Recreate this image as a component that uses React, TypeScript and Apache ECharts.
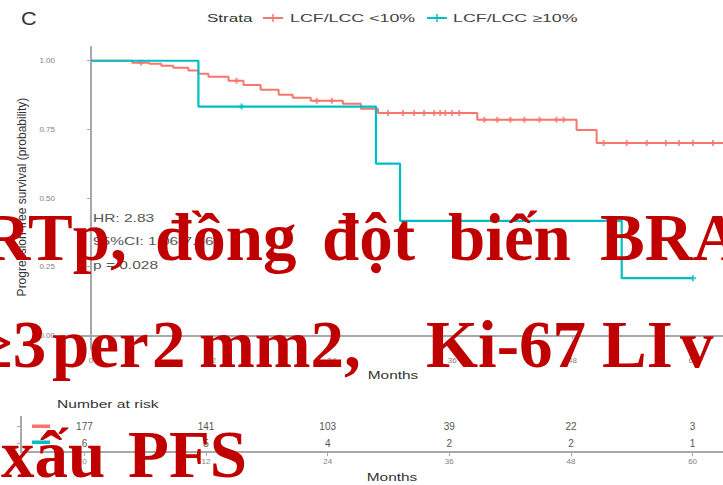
import React, { useEffect, useRef } from 'react';
import * as echarts from 'echarts';

// Kaplan-Meier step data (months, survival probability)
const redTime = [0, 4.1, 5.8, 7.0, 8.2, 9.7, 10.7, 11.7, 13.7, 15.2, 16.9, 18.7, 20.1, 21.9, 25.1, 26.9, 28.6, 38.5, 48.4, 50.4, 63];
const redSurv = [1, 0.993, 0.989, 0.982, 0.974, 0.964, 0.953, 0.942, 0.927, 0.912, 0.894, 0.876, 0.865, 0.854, 0.843, 0.825, 0.81, 0.785, 0.748, 0.7, 0.7];
const tealTime = [0, 10.7, 28.4, 30.8, 52.9, 60];
const tealSurv = [1, 0.833, 0.625, 0.417, 0.208, 0.208];
const redCensor = [5.0, 14.5, 22.5, 24.0, 29.6, 31.1, 32.2, 33.2, 34.2, 34.8, 35.3, 36.0, 36.7, 39.2, 40.5, 41.8, 43.2, 44.7, 46.4, 47.1, 51.1, 53.4, 55.4, 57.3, 58.6, 60.0, 62.0];
const tealCensor = [15, 60];

const timeTicks = [0, 12, 24, 36, 48, 60];
const survTicks = [0, 0.25, 0.5, 0.75, 1];

const strata = ['LCF/LCC <10%', 'LCF/LCC \u226510%'];
const riskRed = [177, 141, 103, 39, 22, 3];
const riskTeal = [6, 5, 4, 2, 2, 1];
const statsLines = ['HR: 2.83', '95%CI: 1.06-7.56', 'p = 0.028'];
const overlayLine1 = ['RTp,', '\u0111\u1ed3ng', '\u0111\u1ed9t', 'bi\u1ebfn', 'BRA'];
const overlayLine2 = ['\u22653', 'per', '2', 'mm2,', 'Ki-67', 'LI', 'v'];
const overlayLine3 = ['x\u1ea5u', 'PFS'];

const RED = '#F8766D';
const TEAL = '#00BFC4';
const SANS = '"Liberation Sans", Arial, sans-serif';

function survAt(t: number, times: number[], survs: number[]) {
  let s = survs[0];
  for (let i = 0; i < times.length; i++) if (times[i] <= t) s = survs[i];
  return s;
}

const plusPath = 'path://M2,0h2v2h2v2h-2v2h-2v-2h-2v-2h2z';

function txt(text: string, x: number, y: number, opts: any = {}) {
  const { size = 11, fill = '#333', scaleX = 1.5, align = 'left', weight = 'normal', family = SANS, rotation = 0, z = 50 } = opts;
  return {
    type: 'text',
    x,
    y,
    scaleX,
    rotation,
    z,
    style: {
      text,
      x: 0,
      y: 0,
      font: `${weight} ${size}px ${family}`,
      fill,
      textAlign: align,
      textVerticalAlign: 'middle',
      align,
      verticalAlign: 'middle',
    },
  };
}

export default function App() {
  const ref = useRef<HTMLDivElement>(null);
  useEffect(() => {
    const chart = echarts.init(ref.current!, undefined, { renderer: 'svg' });

    const axisLine = { show: true, lineStyle: { color: '#a8a8a8', width: 2 } };
    const axisTick = { show: true, length: 4, lineStyle: { color: '#a8a8a8', width: 1 } };

    const overlayFont = { size: 67, fill: '#C00000', scaleX: 1, weight: 'bold', family: '"Liberation Serif", "Times New Roman", serif', z: 200 };
    const line1X = [-18, 155, 322, 448, 600];
    const line2X = [-24, 52, 152, 199, 426, 602, 680];
    const line3X = [1, 128];

    const graphics: any[] = [
      txt('C', 21, 19, { size: 18, scaleX: 1.2, fill: '#333' }),
      // legend
      txt('Strata', 207, 18, { size: 11, scaleX: 1.55, fill: '#333' }),
      { type: 'line', shape: { x1: 263, y1: 18, x2: 283, y2: 18 }, style: { stroke: RED, lineWidth: 2 } },
      { type: 'line', shape: { x1: 273, y1: 14, x2: 273, y2: 22 }, style: { stroke: RED, lineWidth: 1.5 } },
      txt(strata[0], 290, 18, { size: 11, scaleX: 1.62, fill: '#444' }),
      { type: 'line', shape: { x1: 427, y1: 18, x2: 447, y2: 18 }, style: { stroke: TEAL, lineWidth: 2 } },
      { type: 'line', shape: { x1: 437, y1: 14, x2: 437, y2: 22 }, style: { stroke: TEAL, lineWidth: 1.5 } },
      txt(strata[1], 453, 18, { size: 11, scaleX: 1.62, fill: '#444' }),
      // y axis title
      txt('Progression-free survival (probability)', 22, 197, { size: 12, scaleX: 1, align: 'center', rotation: Math.PI / 2, fill: '#333' }),
      // stats
      txt(statsLines[0], 93, 219, { size: 10, scaleX: 1.55, fill: '#555' }),
      txt(statsLines[1], 93, 242, { size: 10, scaleX: 1.55, fill: '#555' }),
      txt(statsLines[2], 93, 266, { size: 10, scaleX: 1.55, fill: '#555' }),
      // axis names
      txt('Months', 393, 375, { size: 11, scaleX: 1.4, align: 'center', fill: '#333' }),
      txt('Number at risk', 57, 404, { size: 11, scaleX: 1.42, fill: '#333' }),
      txt('Months', 392, 477, { size: 11, scaleX: 1.4, align: 'center', fill: '#333' }),
      // risk table strata keys
      { type: 'line', shape: { x1: 21, y1: 416, x2: 21, y2: 453 }, style: { stroke: '#a8a8a8', lineWidth: 2 } },
      { type: 'line', shape: { x1: 17, y1: 426.5, x2: 21, y2: 426.5 }, style: { stroke: '#a8a8a8', lineWidth: 1 } },
      { type: 'line', shape: { x1: 17, y1: 443.5, x2: 21, y2: 443.5 }, style: { stroke: '#a8a8a8', lineWidth: 1 } },
      { type: 'line', shape: { x1: 21, y1: 452, x2: 55, y2: 452 }, style: { stroke: '#a8a8a8', lineWidth: 2 } },
      { type: 'rect', shape: { x: 32, y: 424.5, width: 18, height: 3.5 }, style: { fill: RED } },
      { type: 'rect', shape: { x: 32, y: 440.5, width: 18, height: 3.5 }, style: { fill: TEAL } },
    ];
    overlayLine1.forEach((w, i) => graphics.push(txt(w, line1X[i], 237, overlayFont)));
    overlayLine2.forEach((w, i) => graphics.push(txt(w, line2X[i], 344, overlayFont)));
    overlayLine3.forEach((w, i) => graphics.push(txt(w, line3X[i], 454, overlayFont)));

    const option: any = {
      animation: false,
      backgroundColor: '#ffffff',
      grid: [
        { left: 61, right: -4, top: 47, bottom: 136 },
        { left: 54, right: -2, top: 418, bottom: 33 },
      ],
      xAxis: [
        {
          gridIndex: 0,
          type: 'value',
          min: -3,
          max: 63,
          axisLine,
          axisTick: { ...axisTick, customValues: timeTicks },
          axisLabel: { customValues: timeTicks, color: '#7f7f7f', fontSize: 8, margin: 7, fontFamily: SANS },
          splitLine: { show: false },
        },
        {
          gridIndex: 1,
          type: 'value',
          min: -3,
          max: 63,
          axisLine,
          axisTick: { ...axisTick, customValues: timeTicks },
          axisLabel: { customValues: timeTicks, color: '#7f7f7f', fontSize: 8, margin: 5, fontFamily: SANS },
          splitLine: { show: false },
        },
      ],
      yAxis: [
        {
          gridIndex: 0,
          type: 'value',
          min: -0.05,
          max: 1.05,
          axisLine,
          axisTick: { ...axisTick, customValues: survTicks },
          axisLabel: {
            customValues: survTicks,
            color: '#7f7f7f',
            fontSize: 8,
            margin: 6,
            fontFamily: SANS,
            formatter: (v: number) => v.toFixed(2),
          },
          splitLine: { show: false },
        },
        {
          gridIndex: 1,
          type: 'category',
          data: [strata[1], strata[0]],
          axisLine: { show: false },
          axisTick: { show: false },
          axisLabel: { show: false },
          splitLine: { show: false },
        },
      ],
      series: [
        {
          name: strata[0],
          type: 'line',
          step: 'end',
          xAxisIndex: 0,
          yAxisIndex: 0,
          showSymbol: false,
          symbol: 'none',
          lineStyle: { color: RED, width: 2 },
          data: redTime.map((t, i) => [t, redSurv[i]]),
          z: 3,
        },
        {
          name: strata[1],
          type: 'line',
          step: 'end',
          xAxisIndex: 0,
          yAxisIndex: 0,
          showSymbol: false,
          symbol: 'none',
          lineStyle: { color: TEAL, width: 2.2 },
          data: tealTime.map((t, i) => [t, tealSurv[i]]),
          z: 4,
        },
        {
          type: 'scatter',
          xAxisIndex: 0,
          yAxisIndex: 0,
          symbol: plusPath,
          symbolSize: 6,
          itemStyle: { color: RED },
          data: redCensor.map((t) => [t, survAt(t, redTime, redSurv)]),
          z: 3,
        },
        {
          type: 'scatter',
          xAxisIndex: 0,
          yAxisIndex: 0,
          symbol: plusPath,
          symbolSize: 6,
          itemStyle: { color: TEAL },
          data: tealCensor.map((t) => [t, survAt(t, tealTime, tealSurv)]),
          z: 4,
        },
        {
          type: 'scatter',
          xAxisIndex: 1,
          yAxisIndex: 1,
          symbolSize: 1,
          itemStyle: { color: 'rgba(0,0,0,0)' },
          label: {
            show: true,
            position: 'inside',
            color: '#222',
            fontSize: 10,
            fontFamily: SANS,
            formatter: (p: any) => String(p.value[2]),
          },
          data: [
            ...timeTicks.map((t, i) => [t, strata[0], riskRed[i]]),
            ...timeTicks.map((t, i) => [t, strata[1], riskTeal[i]]),
          ],
        },
      ],
      graphic: { elements: graphics },
    };

    chart.setOption(option);
    return () => chart.dispose();
  }, []);

  return (
    <div
      ref={ref}
      style={{ position: 'fixed', left: 0, top: 0, width: 723, height: 485, background: '#fff' }}
    />
  );
}
